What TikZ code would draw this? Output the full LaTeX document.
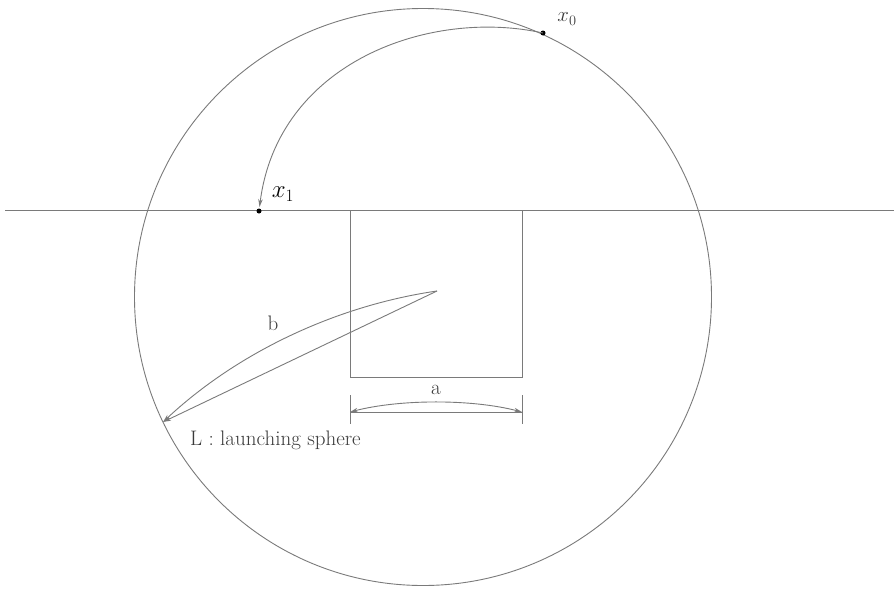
\documentclass[tikz,border=0pt]{standalone}
\usepackage{amsmath}
\usetikzlibrary{positioning,arrows.meta,calc}
\definecolor{lineGray}{HTML}{7A7A7A}
\definecolor{inkGray}{HTML}{3A3A3A}

\begin{document}
\begin{tikzpicture}[x=1pt, y=-1pt, >={Stealth[length=8pt, width=4.5pt, open]},
      font=\fontsize{21}{24}\selectfont,
      edge/.style={draw=lineGray, line width=0.9pt},
      flight/.style={edge, ->},
      spot/.style={circle, fill=black, inner sep=0pt, minimum size=5pt},
      lbl/.style={text=inkGray, inner sep=1pt}]
    \useasboundingbox (0,0) rectangle (894,589);
    % ---- launching sphere and the wall
    \node[edge, circle, minimum size=577pt, inner sep=0pt] (sphere) at (423,297) {};
    \coordinate (wallL) at (5,210);
    \coordinate (wallR) at (894,210);
    \draw[edge] (wallL) -- (wallR);
    \coordinate (boxNW) at (350,210);
    \coordinate (boxSE) at (522,377);
    \draw[edge] (boxNW) rectangle (boxSE);
    % ---- the jump from x0 to x1
    \node[spot] (x0) at (543,33) {};
    \node[spot] (x1) at (259,211) {};
    \node[lbl, font=\fontsize{22}{25}\selectfont] (x0lbl) at (567,19) {$x_0$};
    \node[lbl, font=\fontsize{24}{27}\selectfont, text=black] (x1lbl) at (283,194) {$x_1$};
    \draw[flight, shorten >=4pt] (x0.center) .. controls (430,8) and (278,62) .. (x1.center);
    % ---- the width a
    \coordinate (aLtop) at (350,395);
    \coordinate (aLbot) at (350,424);
    \coordinate (aRtop) at (522,395);
    \coordinate (aRbot) at (522,424);
    \draw[edge] (aLtop) -- (aLbot);
    \draw[edge] (aRtop) -- (aRbot);
    \coordinate (aL) at (350,412);
    \coordinate (aR) at (522,412);
    \draw[edge, <->] (aL) .. controls (400,399) and (472,399) .. (aR);
    \draw[edge] (aL) -- (aR);
    \node[lbl] (alab) at (436,390) {a};
    % ---- the path b
    \coordinate (bTip) at (437,291);
    \coordinate (bEnd) at (163,422);
    \draw[flight] (bTip) .. controls (340,305) and (240,350) .. (bEnd);
    \draw[flight] (bTip) -- (bEnd);
    \node[lbl] (blab) at (273,323) {b};
    \node[lbl, anchor=west] (sphlab) at (189,440) {L : launching sphere};
  \end{tikzpicture}
\end{document}
